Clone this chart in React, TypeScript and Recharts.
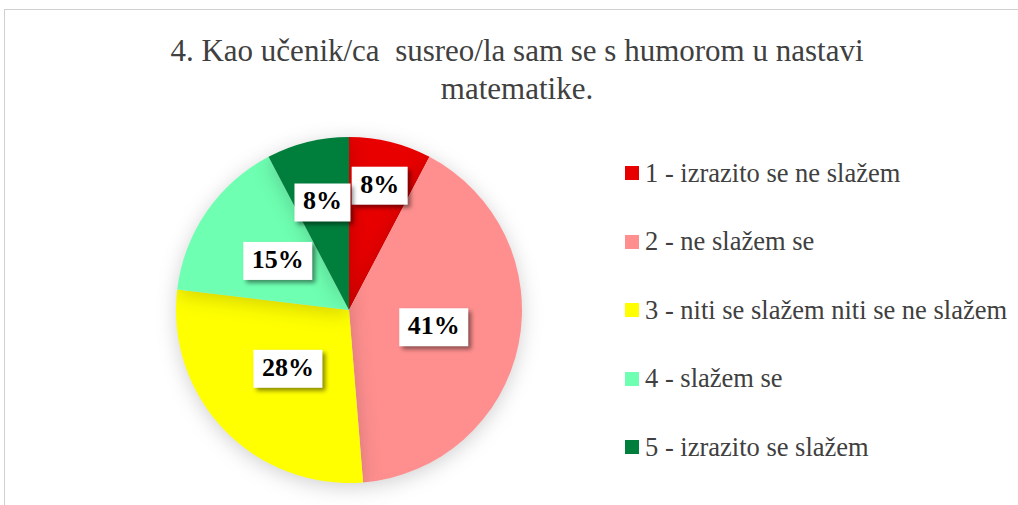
import React from 'react';
import { PieChart, Pie, Cell, Legend } from 'recharts';

const categories = [
  '1 - izrazito se ne slažem',
  '2 - ne slažem se',
  '3 - niti se slažem niti se ne slažem',
  '4 - slažem se',
  '5 - izrazito se slažem',
];
const shares = [7.7, 41.0, 28.2, 15.4, 7.7];
const colors = ['#E80000', '#FF8F8F', '#FFFF00', '#6EFFB2', '#007E3C'];
// how far out (fraction of radius) each data label sits
const labelRadius = [0.74, 0.5, 0.49, 0.5, 0.64];

const data = categories.map((name, i) => ({ name, value: shares[i] }));

const FONT = '"Liberation Serif", serif';
const RADIAN = Math.PI / 180;

function renderLabel(props: any) {
  const { cx, cy, midAngle, outerRadius, percent, index } = props;
  const r = outerRadius * labelRadius[index];
  const x = cx + r * Math.cos(-midAngle * RADIAN);
  const y = cy + r * Math.sin(-midAngle * RADIAN);
  const text = `${Math.round(percent * 100)}%`;
  const w = text.length > 2 ? 69 : 56;
  const h = 38;
  return (
    <g key={`lbl-${index}`}>
      <rect
        x={x - w / 2}
        y={y - h / 2}
        width={w}
        height={h}
        fill="#fff"
        style={{ filter: 'drop-shadow(3px 3px 2px rgba(0,0,0,0.45))' }}
      />
      <text
        x={x}
        y={y + 1}
        textAnchor="middle"
        dominantBaseline="middle"
        style={{ fontFamily: FONT, fontWeight: 'bold', fontSize: 26 }}
        fill="#000"
      >
        {text}
      </text>
    </g>
  );
}

function LegendList() {
  return (
    <div style={{ display: 'flex', flexDirection: 'column' }}>
      {categories.map((c, i) => (
        <div key={c} style={{ display: 'flex', alignItems: 'center', height: 68.5 }}>
          <div style={{ width: 14, height: 14, background: colors[i], marginRight: 6 }} />
          <span style={{ fontFamily: FONT, fontSize: 26.5, color: '#404040', whiteSpace: 'nowrap' }}>{c}</span>
        </div>
      ))}
    </div>
  );
}

export default function App() {
  return (
    <div style={{ position: 'relative', width: 1018, height: 505, background: '#fff', overflow: 'hidden' }}>
      <style>{`body{margin:0} .recharts-pie-sector{filter: drop-shadow(0 4px 10px rgba(0,0,0,0.18));}`}</style>
      <div
        style={{
          position: 'absolute',
          left: 4,
          top: 9,
          width: 1100,
          height: 600,
          border: '1px solid #d0d0d0',
          boxSizing: 'border-box',
        }}
      />
      <div
        style={{
          position: 'absolute',
          left: 0,
          top: 32,
          width: 1034,
          textAlign: 'center',
          fontFamily: FONT,
          fontSize: 31,
          lineHeight: '38px',
          color: '#404040',
          whiteSpace: 'pre',
        }}
      >
        {'4. Kao učenik/ca  susreo/la sam se s humorom u nastavi\nmatematike.'}
      </div>
      <div style={{ position: 'absolute', left: 0, top: 0 }}>
        <PieChart width={1018} height={505} margin={{ top: 0, right: 0, bottom: 0, left: 0 }}>
          <Pie
            data={data}
            dataKey="value"
            nameKey="name"
            cx={349}
            cy={310}
            outerRadius={173}
            startAngle={90}
            endAngle={-270}
            stroke="none"
            label={renderLabel}
            labelLine={false}
            isAnimationActive={false}
          >
            {data.map((d, i) => (
              <Cell key={d.name} fill={colors[i]} />
            ))}
          </Pie>
          <Legend
            content={() => <LegendList />}
            wrapperStyle={{ position: 'absolute', left: 625, top: 139, width: 390 }}
          />
        </PieChart>
      </div>
    </div>
  );
}
